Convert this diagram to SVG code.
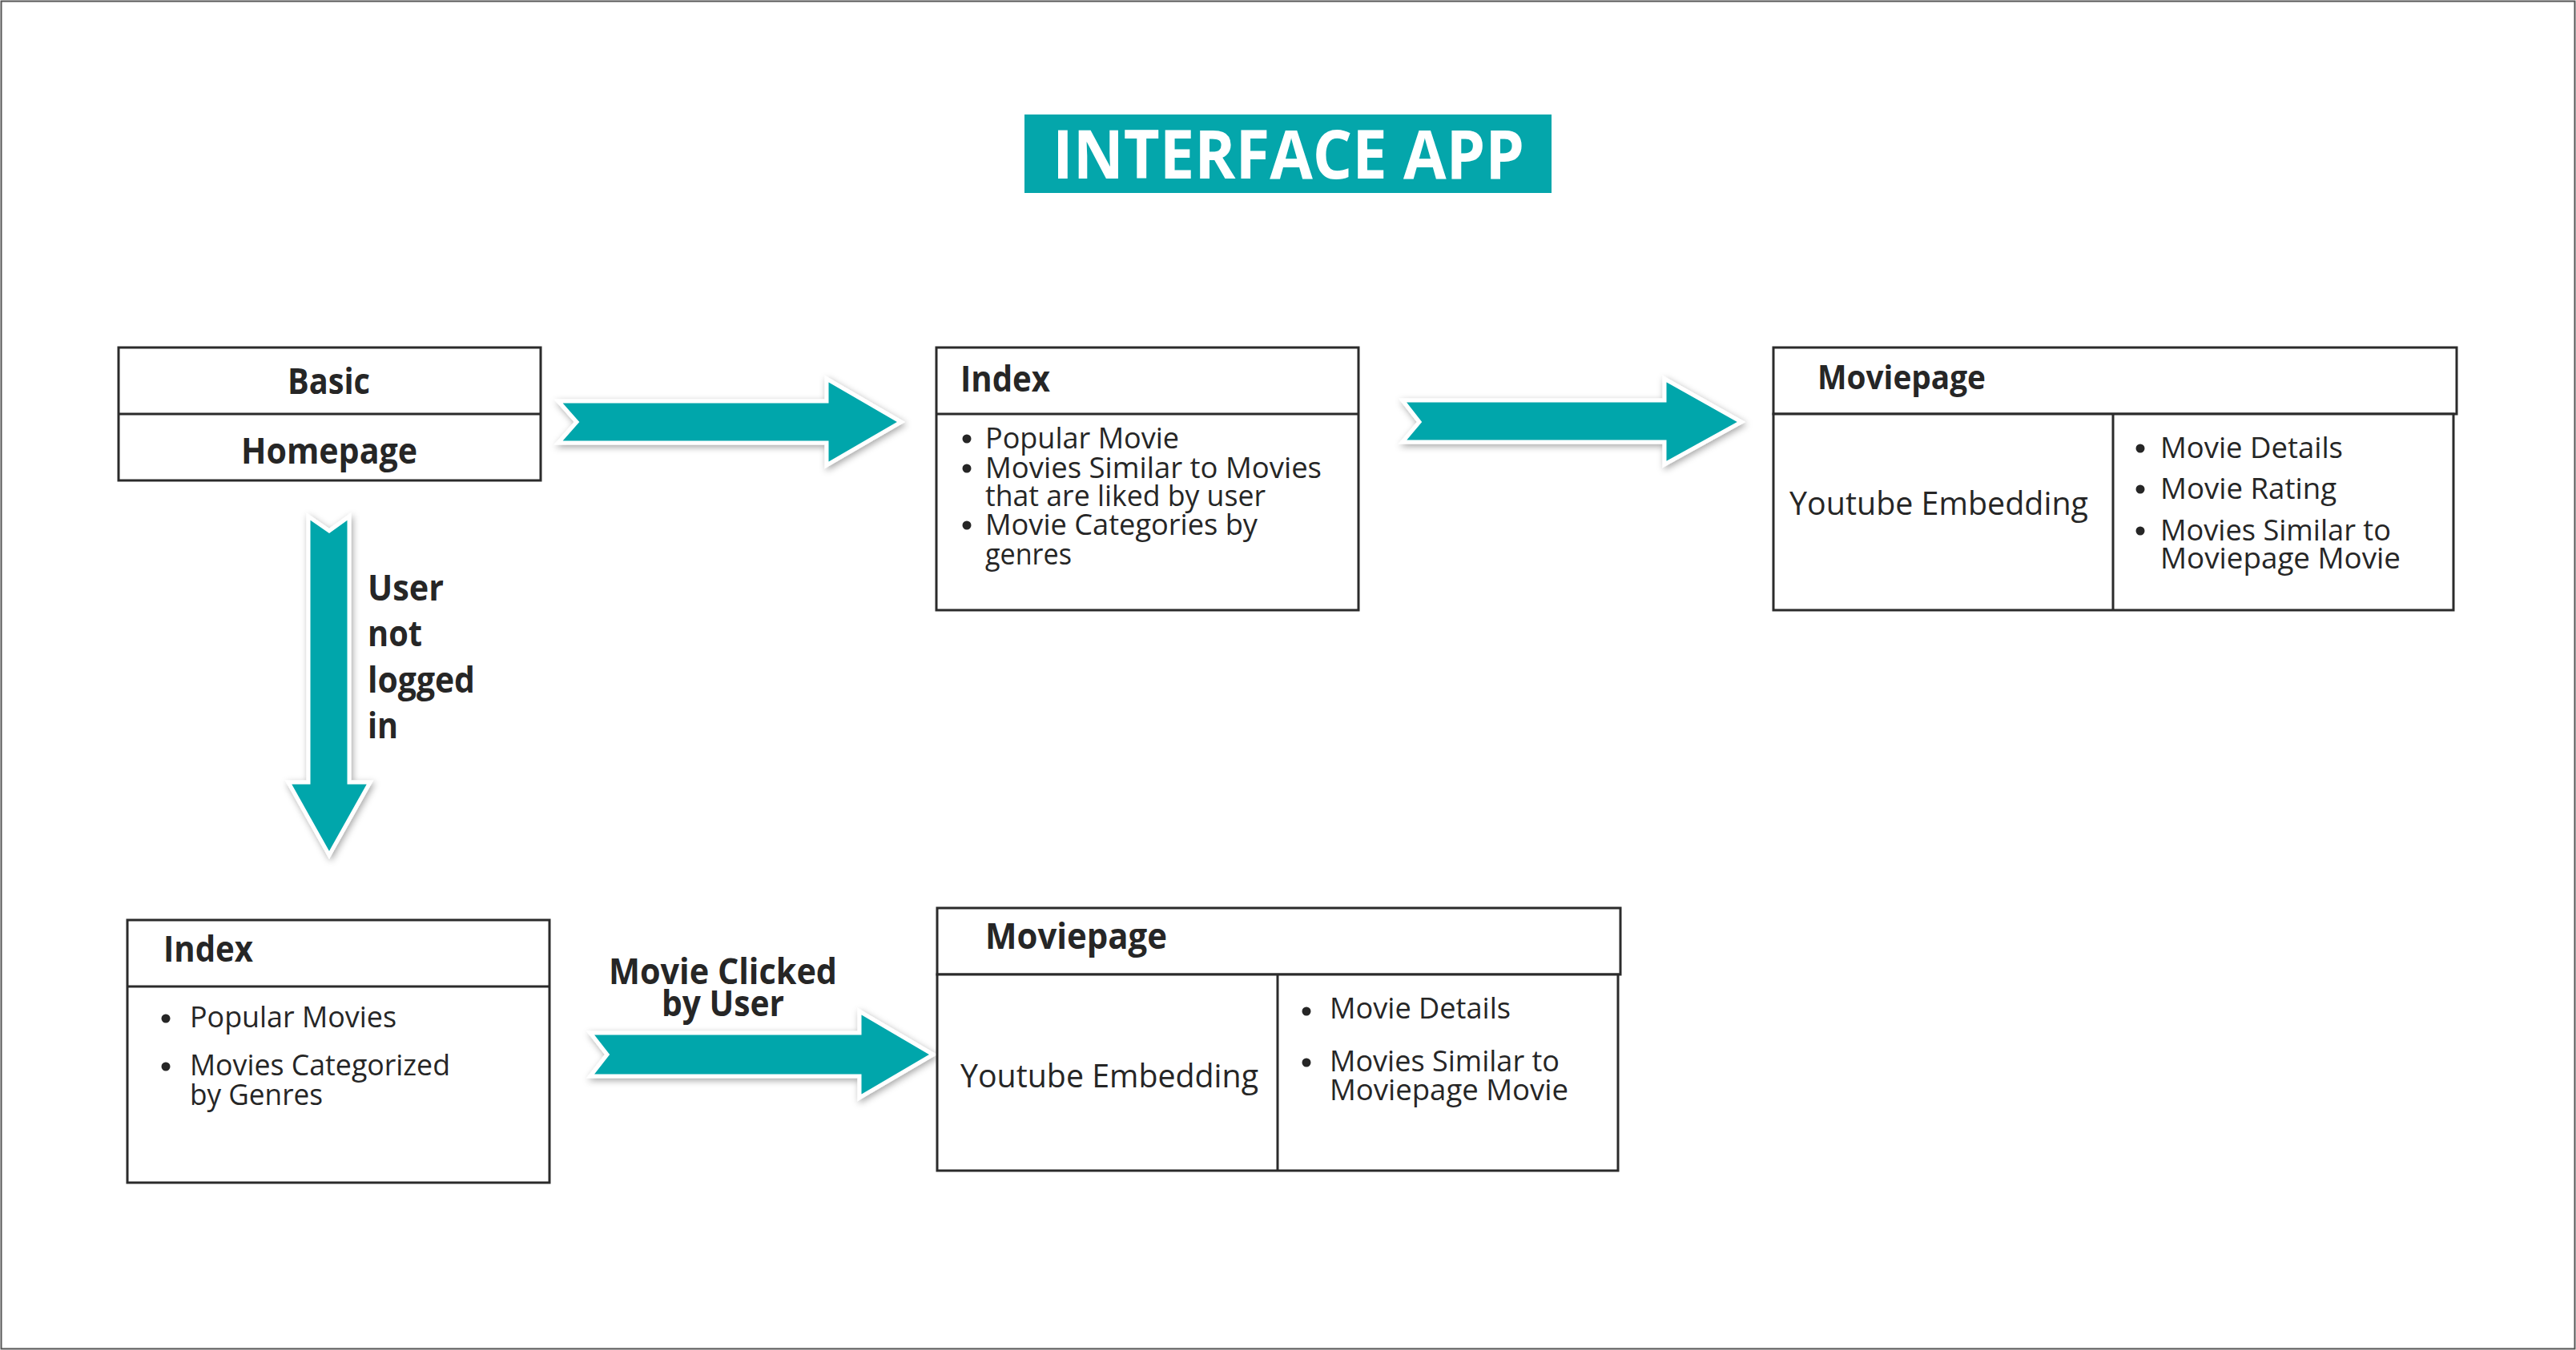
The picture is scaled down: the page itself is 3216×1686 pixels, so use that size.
<svg xmlns="http://www.w3.org/2000/svg" width="3216" height="1686" viewBox="0 0 3216 1686">
<defs>
<style>
.box{fill:#fff;stroke:#2b2b2b;stroke-width:3}
.ln{stroke:#2b2b2b;stroke-width:3;fill:none}
.b{font-family:"Open Sans","Noto Sans",sans-serif;font-weight:700;fill:#262626}
.r{font-family:"Open Sans","Noto Sans",sans-serif;font-weight:400;fill:#262626}
.arrow{fill:#04A6AB;stroke:#fff;stroke-width:5;stroke-linejoin:miter;filter:url(#sh)}
.dot{fill:#262626}
</style>
<filter id="sh" x="-20%" y="-40%" width="140%" height="180%">
<feDropShadow dx="2" dy="3" stdDeviation="4" flood-color="#000" flood-opacity="0.35"/>
</filter>
</defs>
<rect x="0" y="0" width="3216" height="1686" fill="#fff"/>
<rect x="1.5" y="1.5" width="3213" height="1683" fill="none" stroke="#555" stroke-width="2"/>

<g id="title">
<rect x="1279" y="143" width="658" height="98" fill="#04A6AB"/>
<text x="1314" y="223" font-family="Open Sans, sans-serif" font-weight="700" font-size="84" fill="#fff" textLength="589" lengthAdjust="spacingAndGlyphs">INTERFACE APP</text>
</g>

<g id="connectors">
<polygon class="arrow" points="697,501 1032,501 1032,473 1125,527 1032,581 1032,553 697,553 720,527"/>
<polygon class="arrow" points="1751,500 2078,500 2078,473 2174,527 2078,580 2078,552 1751,552 1772,527"/>
<polygon class="arrow" points="385,645 411,663 436,645 436,977 462,977 411,1068 360,977 385,977"/>
<polygon class="arrow" points="737,1290 1073,1290 1073,1263 1165,1317 1073,1371 1073,1344 737,1344 758,1317"/>
<text class="b" font-size="44" x="459" y="750" textLength="95" lengthAdjust="spacingAndGlyphs">User</text>
<text class="b" font-size="44" x="459" y="807" textLength="68" lengthAdjust="spacingAndGlyphs">not</text>
<text class="b" font-size="44" x="459" y="865" textLength="134" lengthAdjust="spacingAndGlyphs">logged</text>
<text class="b" font-size="44" x="459" y="922" textLength="38" lengthAdjust="spacingAndGlyphs">in</text>
<text class="b" font-size="44" x="760" y="1229" textLength="285" lengthAdjust="spacingAndGlyphs">Movie Clicked</text>
<text class="b" font-size="44" x="826" y="1269" textLength="153" lengthAdjust="spacingAndGlyphs">by User</text>
</g>

<g id="basic-homepage">
<rect class="box" x="148" y="434" width="527" height="166"/>
<line class="ln" x1="148" y1="517" x2="675" y2="517"/>
<text class="b" font-size="44" x="359" y="492" textLength="103" lengthAdjust="spacingAndGlyphs">Basic</text>
<text class="b" font-size="44" x="301" y="579" textLength="220" lengthAdjust="spacingAndGlyphs">Homepage</text>
</g>

<g id="index-top">
<rect class="box" x="1169" y="434" width="527" height="328"/>
<line class="ln" x1="1169" y1="517" x2="1696" y2="517"/>
<text class="b" font-size="44" x="1199" y="489" textLength="112" lengthAdjust="spacingAndGlyphs">Index</text>
<circle class="dot" cx="1207" cy="548" r="5.5"/>
<circle class="dot" cx="1207" cy="585" r="5.5"/>
<circle class="dot" cx="1207" cy="656" r="5.5"/>
<text class="r" font-size="37" x="1230" y="560" textLength="242" lengthAdjust="spacingAndGlyphs">Popular Movie</text>
<text class="r" font-size="37" x="1230" y="597" textLength="420" lengthAdjust="spacingAndGlyphs">Movies Similar to Movies</text>
<text class="r" font-size="37" x="1230" y="632" textLength="350" lengthAdjust="spacingAndGlyphs">that are liked by user</text>
<text class="r" font-size="37" x="1230" y="668" textLength="340" lengthAdjust="spacingAndGlyphs">Movie Categories by</text>
<text class="r" font-size="37" x="1230" y="705" textLength="108" lengthAdjust="spacingAndGlyphs">genres</text>
</g>

<g id="moviepage-top">
<rect class="box" x="2214" y="434" width="853" height="83"/>
<rect class="box" x="2214" y="517" width="849" height="245"/>
<line class="ln" x1="2638" y1="517" x2="2638" y2="762"/>
<text class="b" font-size="41" x="2269" y="486" textLength="210" lengthAdjust="spacingAndGlyphs">Moviepage</text>
<text class="r" font-size="41" x="2234" y="643" textLength="373" lengthAdjust="spacingAndGlyphs">Youtube Embedding</text>
<circle class="dot" cx="2672" cy="560" r="5.5"/>
<circle class="dot" cx="2672" cy="611" r="5.5"/>
<circle class="dot" cx="2672" cy="663" r="5.5"/>
<text class="r" font-size="37" x="2697" y="572" textLength="228" lengthAdjust="spacingAndGlyphs">Movie Details</text>
<text class="r" font-size="37" x="2697" y="623" textLength="220" lengthAdjust="spacingAndGlyphs">Movie Rating</text>
<text class="r" font-size="37" x="2697" y="675" textLength="288" lengthAdjust="spacingAndGlyphs">Movies Similar to</text>
<text class="r" font-size="37" x="2697" y="710" textLength="300" lengthAdjust="spacingAndGlyphs">Moviepage Movie</text>
</g>

<g id="index-bottom">
<rect class="box" x="159" y="1149" width="527" height="328"/>
<line class="ln" x1="159" y1="1232" x2="686" y2="1232"/>
<text class="b" font-size="44" x="204" y="1201" textLength="112" lengthAdjust="spacingAndGlyphs">Index</text>
<circle class="dot" cx="207" cy="1272" r="5.5"/>
<circle class="dot" cx="207" cy="1332" r="5.5"/>
<text class="r" font-size="37" x="237" y="1283" textLength="258" lengthAdjust="spacingAndGlyphs">Popular Movies</text>
<text class="r" font-size="37" x="237" y="1343" textLength="325" lengthAdjust="spacingAndGlyphs">Movies Categorized</text>
<text class="r" font-size="37" x="237" y="1380" textLength="166" lengthAdjust="spacingAndGlyphs">by Genres</text>
</g>

<g id="moviepage-bottom">
<rect class="box" x="1170" y="1134" width="853" height="83"/>
<rect class="box" x="1170" y="1217" width="850" height="245"/>
<line class="ln" x1="1595" y1="1217" x2="1595" y2="1462"/>
<text class="b" font-size="44" x="1230" y="1185" textLength="227" lengthAdjust="spacingAndGlyphs">Moviepage</text>
<text class="r" font-size="41" x="1199" y="1358" textLength="372" lengthAdjust="spacingAndGlyphs">Youtube Embedding</text>
<circle class="dot" cx="1631" cy="1263" r="5.5"/>
<circle class="dot" cx="1631" cy="1327" r="5.5"/>
<text class="r" font-size="37" x="1660" y="1272" textLength="226" lengthAdjust="spacingAndGlyphs">Movie Details</text>
<text class="r" font-size="37" x="1660" y="1338" textLength="287" lengthAdjust="spacingAndGlyphs">Movies Similar to</text>
<text class="r" font-size="37" x="1660" y="1374" textLength="298" lengthAdjust="spacingAndGlyphs">Moviepage Movie</text>
</g>
</svg>
